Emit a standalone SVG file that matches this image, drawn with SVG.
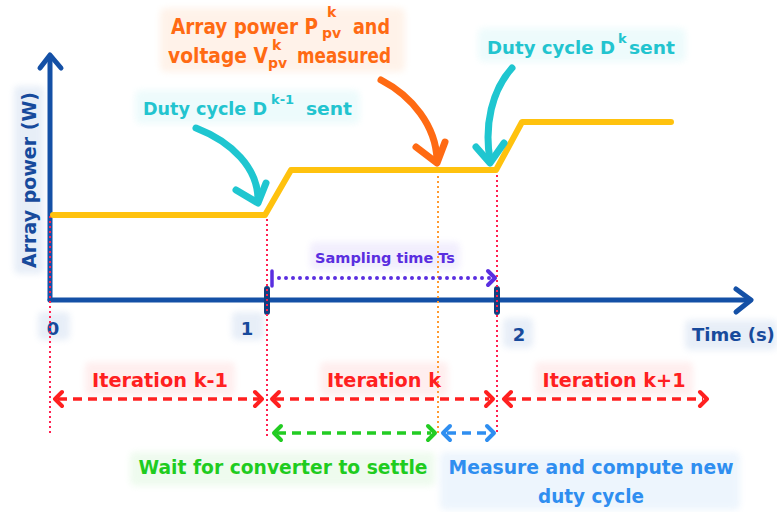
<svg xmlns="http://www.w3.org/2000/svg" width="777" height="512" viewBox="0 0 777 512">
<defs>
<style>
text{font-family:"DejaVu Sans","Verdana",sans-serif;font-weight:bold}
.ax{stroke:#1450a6;stroke-width:5;fill:none;stroke-linecap:round;stroke-linejoin:round}
.tick{stroke:#123f80;stroke-width:6;stroke-linecap:round}
.vr{stroke:#ff2050;stroke-width:2;stroke-dasharray:2 3;fill:none}
.vo{stroke:#ff9a30;stroke-width:2;stroke-dasharray:2 3;fill:none}
.da{stroke-width:3.5;stroke-dasharray:9 6;fill:none}
.hd{stroke-width:4;fill:none;stroke-linecap:round;stroke-linejoin:round}
.cv{stroke-width:7;fill:none;stroke-linecap:round;stroke-linejoin:round}
.bg{opacity:0.42}
.or{fill:#ff6a13}
.cy{fill:#22c4cf}
</style>
<filter id="blur" x="-20%" y="-40%" width="140%" height="180%"><feGaussianBlur stdDeviation="3"/></filter>
</defs>
<rect width="777" height="512" fill="#ffffff"/>

<!-- label backgrounds -->
<g filter="url(#blur)" class="bg">
<rect x="160" y="8" width="245" height="64" rx="6" fill="#ffe2cc"/>
<rect x="135" y="90" width="225" height="34" rx="6" fill="#d6f6f8"/>
<rect x="478" y="28" width="208" height="34" rx="6" fill="#d6f6f8"/>
<rect x="14" y="86" width="30" height="188" rx="5" fill="#c8d8ee"/>
<rect x="38" y="312" width="32" height="28" rx="5" fill="#c8d8ee"/>
<rect x="232" y="312" width="32" height="28" rx="5" fill="#c8d8ee"/>
<rect x="503" y="318" width="30" height="30" rx="5" fill="#c8d8ee"/>
<rect x="685" y="320" width="92" height="30" rx="5" fill="#c8d8ee"/>
<rect x="310" y="242" width="150" height="28" rx="5" fill="#e0d8fb"/>
<rect x="85" y="362" width="150" height="34" rx="5" fill="#ffd8d8"/>
<rect x="320" y="362" width="128" height="34" rx="5" fill="#ffd8d8"/>
<rect x="535" y="362" width="158" height="34" rx="5" fill="#ffd8d8"/>
<rect x="130" y="452" width="305" height="34" rx="5" fill="#d8f6d8"/>
<rect x="440" y="452" width="300" height="58" rx="5" fill="#d6e8fb"/>
</g>

<!-- axes -->
<g id="axes">
<path class="ax" d="M50,300 L50,56"/>
<path class="ax" d="M40,68 L50,55 L61,68"/>
<path class="ax" d="M50,300 L750,300"/>
<path class="ax" d="M736,289 L751,300 L736,312"/>
<line class="tick" x1="267" y1="289" x2="267" y2="312"/>
<line class="tick" x1="497" y1="289" x2="497" y2="312"/>
<text x="30" y="180" font-size="19" fill="#174a9c" text-anchor="middle" transform="rotate(-90 30 180)" dy="6">Array power (W)</text>
<text x="53" y="335" font-size="18" fill="#174a9c" text-anchor="middle">0</text>
<text x="247" y="335" font-size="18" fill="#174a9c" text-anchor="middle">1</text>
<text x="519" y="341" font-size="18" fill="#174a9c" text-anchor="middle">2</text>
<text x="692" y="341" font-size="18" fill="#174a9c">Time (s)</text>
</g>

<g id="guides">
<line class="vr" x1="50" y1="216" x2="50" y2="434"/>
<line class="vr" x1="267" y1="214" x2="267" y2="438"/>
<line class="vr" x1="497" y1="170" x2="497" y2="434"/>
<line class="vo" x1="438" y1="171" x2="438" y2="436"/>
</g>

<g id="power-curve">
<polyline points="53,215 265,215 291,170 496,170 522,122 671,122" fill="none" stroke="#ffc20e" stroke-width="6" stroke-linejoin="round" stroke-linecap="round"/>
</g>

<!-- callouts -->
<g id="label-array-power">
<text class="or" font-size="21" x="171" y="34" textLength="147" lengthAdjust="spacingAndGlyphs">Array power P</text>
<text class="or" font-size="14" x="327" y="17">k</text>
<text class="or" font-size="14" x="322" y="38">pv</text>
<text class="or" font-size="21" x="353" y="34" textLength="37" lengthAdjust="spacingAndGlyphs">and</text>
<text class="or" font-size="21" x="168" y="63" textLength="100" lengthAdjust="spacingAndGlyphs">voltage V</text>
<text class="or" font-size="14" x="272" y="50">k</text>
<text class="or" font-size="14" x="268" y="68">pv</text>
<text class="or" font-size="21" x="297" y="63" textLength="94" lengthAdjust="spacingAndGlyphs">measured</text>
</g>
<g id="label-dk1">
<text class="cy" font-size="18.5" x="143" y="115" textLength="124" lengthAdjust="spacingAndGlyphs">Duty cycle D</text>
<text class="cy" font-size="13" x="271" y="104">k-1</text>
<text class="cy" font-size="18.5" x="306" y="115" textLength="46" lengthAdjust="spacingAndGlyphs">sent</text>
</g>
<g id="label-dk">
<text class="cy" font-size="18.5" x="487" y="54" textLength="128" lengthAdjust="spacingAndGlyphs">Duty cycle D</text>
<text class="cy" font-size="13" x="618" y="43">k</text>
<text class="cy" font-size="18.5" x="629" y="54" textLength="46" lengthAdjust="spacingAndGlyphs">sent</text>
</g>

<g id="connectors">
<path class="cv" stroke="#1fc6d0" d="M196,128 C232,142 258,168 258,200"/>
<path class="cv" stroke="#1fc6d0" d="M236,190 L258,203 L266,183"/>
<path class="cv" stroke="#ff6a13" d="M381,80 C412,96 436,126 437,160"/>
<path class="cv" stroke="#ff6a13" d="M416,147 L437,163 L445,142"/>
<path class="cv" stroke="#1fc6d0" d="M512,68 C492,90 484,125 490,160"/>
<path class="cv" stroke="#1fc6d0" d="M476,147 L490,163 L504,143"/>

<!-- sampling time -->
<line x1="279" y1="278" x2="490" y2="278" stroke="#5a2ee0" stroke-width="4" stroke-dasharray="0 7" stroke-linecap="round"/>
<line x1="272" y1="271" x2="272" y2="286" stroke="#5a2ee0" stroke-width="3.5" stroke-linecap="round"/>
<path class="hd" stroke="#5a2ee0" d="M488,271 L495,278 L488,285"/>

<!-- iteration arrows -->
<line class="da" stroke="#ff2020" x1="58" y1="399" x2="259" y2="399"/>
<path class="hd" stroke="#ff2020" d="M62,392 L55,399 L62,406 M255,392 L262,399 L255,406"/>
<line class="da" stroke="#ff2020" x1="275" y1="399" x2="489" y2="399"/>
<path class="hd" stroke="#ff2020" d="M279,392 L272,399 L279,406 M486,392 L493,399 L486,406"/>
<line class="da" stroke="#ff2020" x1="507" y1="399" x2="703" y2="399"/>
<path class="hd" stroke="#ff2020" d="M511,392 L504,399 L511,406 M700,392 L707,399 L700,406"/>

<line class="da" stroke="#22cc22" x1="277" y1="433" x2="431" y2="433"/>
<path class="hd" stroke="#22cc22" d="M281,426 L274,433 L281,440 M428,426 L435,433 L428,440"/>
<line class="da" stroke="#2f8ef0" x1="447" y1="433" x2="489" y2="433" stroke-dasharray="7 5"/>
<path class="hd" stroke="#2f8ef0" d="M450,426 L443,433 L450,440 M487,426 L494,433 L487,440"/>
</g>

<g id="labels-bottom">
<text x="385" y="263" font-size="14.5" fill="#5a2ee0" text-anchor="middle">Sampling time Ts</text>
<text x="160" y="387" font-size="20" fill="#ff2020" text-anchor="middle" textLength="136" lengthAdjust="spacingAndGlyphs">Iteration k-1</text>
<text x="384" y="387" font-size="20" fill="#ff2020" text-anchor="middle" textLength="114" lengthAdjust="spacingAndGlyphs">Iteration k</text>
<text x="614" y="387" font-size="20" fill="#ff2020" text-anchor="middle" textLength="143" lengthAdjust="spacingAndGlyphs">Iteration k+1</text>
<text x="283" y="474" font-size="20" fill="#1fcc1f" text-anchor="middle" textLength="289" lengthAdjust="spacingAndGlyphs">Wait for converter to settle</text>
<text x="591" y="474" font-size="20" fill="#2f8ef0" text-anchor="middle" textLength="285" lengthAdjust="spacingAndGlyphs">Measure and compute new</text>
<text x="591" y="503" font-size="20" fill="#2f8ef0" text-anchor="middle" textLength="106" lengthAdjust="spacingAndGlyphs">duty cycle</text>
</g>
</svg>
